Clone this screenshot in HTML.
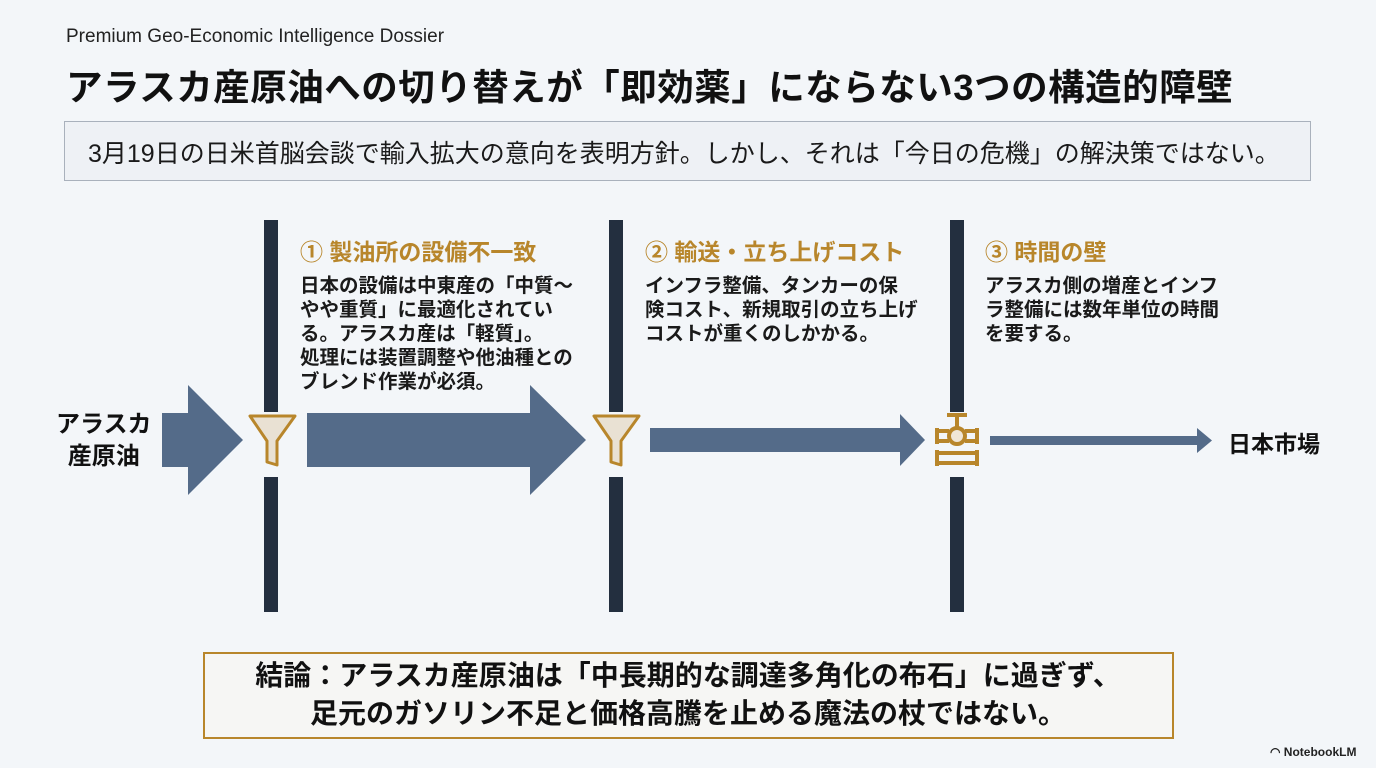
<!DOCTYPE html>
<html><head><meta charset="utf-8"><style>
body{margin:0;width:1376px;height:768px;background:#f3f6f9;font-family:"Liberation Sans","Noto Sans CJK JP",sans-serif;position:relative;overflow:hidden;color:#111}
.a{position:absolute}
.bar{position:absolute;width:14px;background:#232f3f}
.h{color:#b8862b;font-weight:bold;font-size:23px}
.t{font-size:19.5px;line-height:24px;font-weight:bold;color:#1a1a1a;white-space:nowrap}
</style></head><body>
<div class="a" style="left:66px;top:26px;font-size:19px;color:#222">Premium Geo-Economic Intelligence Dossier</div>
<div class="a" style="left:66px;top:58px;font-size:36.5px;font-weight:bold;letter-spacing:0.5px;white-space:nowrap">アラスカ産原油への切り替えが「即効薬」にならない3つの構造的障壁</div>
<div class="a" style="left:64px;top:121px;width:1245px;height:58px;border:1.5px solid #a9b1bc;background:#eef1f5"></div>
<div class="a" style="left:88px;top:134px;font-size:25px;color:#1a1a1a;white-space:nowrap">3月19日の日米首脳会談で輸入拡大の意向を表明方針。しかし、それは「今日の危機」の解決策ではない。</div>

<div class="bar" style="left:264px;top:220px;height:192px"></div>
<div class="bar" style="left:264px;top:477px;height:135px"></div>
<div class="bar" style="left:609px;top:220px;height:192px"></div>
<div class="bar" style="left:609px;top:477px;height:135px"></div>
<div class="bar" style="left:950px;top:220px;height:192px"></div>
<div class="bar" style="left:950px;top:477px;height:135px"></div>

<div class="a h" style="left:300px;top:233px">① 製油所の設備不一致</div>
<div class="a t" style="left:300px;top:274px">日本の設備は中東産の「中質〜<br>やや重質」に最適化されてい<br>る。アラスカ産は「軽質」。<br>処理には装置調整や他油種との<br>ブレンド作業が必須。</div>
<div class="a h" style="left:645px;top:233px">② 輸送・立ち上げコスト</div>
<div class="a t" style="left:645px;top:274px">インフラ整備、タンカーの保<br>険コスト、新規取引の立ち上げ<br>コストが重くのしかかる。</div>
<div class="a h" style="left:985px;top:233px">③ 時間の壁</div>
<div class="a t" style="left:985px;top:274px">アラスカ側の増産とインフ<br>ラ整備には数年単位の時間<br>を要する。</div>

<div class="a" style="left:56px;top:409px;font-size:24px;font-weight:bold;line-height:32px;text-align:center">アラスカ<br>産原油</div>
<div class="a" style="left:1228px;top:425px;font-size:23px;font-weight:bold">日本市場</div>

<svg class="a" style="left:0;top:0" width="1376" height="768">
<g fill="#546b89">
<polygon points="162,413 188,413 188,385 243,440 188,495 188,467 162,467"/>
<polygon points="307,413 530,413 530,385 586,440 530,495 530,467 307,467"/>
<polygon points="650,428 900,428 900,414 925,440 900,466 900,452 650,452"/>
<polygon points="990,436 1197,436 1197,428 1212,440.5 1197,453 1197,445 990,445"/>
</g>
<g stroke="#b8862b" stroke-width="3" fill="#e9e1d3" stroke-linejoin="round">
<polygon points="250,416 295,416 277,441 277,465 267,462 267,441"/>
<polygon points="594,416 639,416 621,441 621,465 611,462 611,441"/>
</g>
<g stroke="#b8862b" stroke-width="4" fill="none">
<line x1="947" y1="415" x2="967" y2="415"/><line x1="957" y1="415" x2="957" y2="428"/>
<circle cx="957" cy="436" r="8" fill="#f0e6d6"/>
<line x1="937" y1="431" x2="949" y2="431"/><line x1="965" y1="431" x2="977" y2="431"/>
<line x1="937" y1="441" x2="949" y2="441"/><line x1="965" y1="441" x2="977" y2="441"/>
<line x1="937" y1="428" x2="937" y2="444"/><line x1="977" y1="428" x2="977" y2="444"/>
<line x1="937" y1="453" x2="977" y2="453"/><line x1="937" y1="463" x2="977" y2="463"/>
<line x1="937" y1="450" x2="937" y2="466"/><line x1="977" y1="450" x2="977" y2="466"/>
</g>
</svg>

<div class="a" style="left:203px;top:652px;width:967px;height:83px;border:2.5px solid #b8862b;background:#f6f6f4"></div>
<div class="a" style="left:203px;top:657px;width:970px;text-align:center;font-size:28px;font-weight:bold;line-height:38px;white-space:nowrap">結論：アラスカ産原油は「中長期的な調達多角化の布石」に過ぎず、<br>足元のガソリン不足と価格高騰を止める魔法の杖ではない。</div>
<div class="a" style="left:1270px;top:745px;font-size:12px;font-weight:bold;color:#222">◠ NotebookLM</div>
</body></html>
